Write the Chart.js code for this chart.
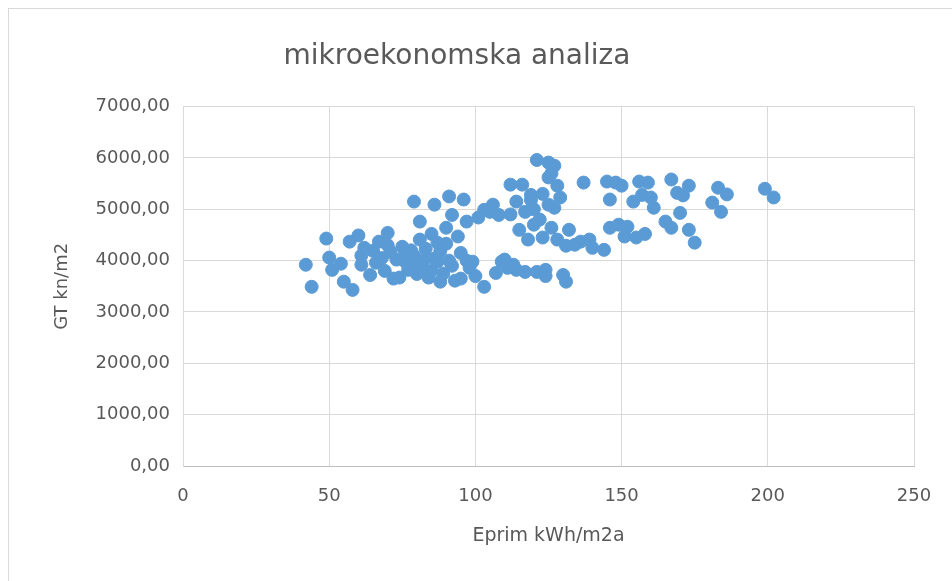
<!DOCTYPE html>
<html>
<head>
<meta charset="utf-8">
<script src="https://cdn.jsdelivr.net/npm/chart.js@4.4.1/dist/chart.umd.min.js"></script>
<style>
  html, body { margin: 0; padding: 0; background: #ffffff; }
  #wrap { position: relative; width: 952px; height: 581px; overflow: hidden; }
  #frame { position: absolute; left: 8px; top: 8px; width: 960px; height: 600px;
           border-left: 1px solid #d9d9d9; border-top: 1px solid #d9d9d9; }
  canvas { position: absolute; left: 0; top: 0; }
</style>
</head>
<body>
<div id="wrap">
  <div id="frame"></div>
  <canvas id="chart" width="952" height="581"></canvas>
</div>
<script>
// Eprim (kWh/m2a) per building
var eprim = [
  42, 44, 49, 50, 51, 54, 55, 57, 58, 60,
  61, 61, 62, 64, 65, 66, 67, 69, 70, 71,
  73, 74, 75, 76, 77, 79, 79, 81, 81, 82,
  83, 84, 85, 86, 87, 88, 88, 90, 90, 91,
  92, 92, 93, 94, 95, 96, 97, 98, 99, 100,
  103, 101, 103, 105, 106, 108, 109, 111, 112, 113,
  114, 115, 116, 117, 117, 118, 119, 120, 121, 122,
  123, 124, 121, 125, 125, 125, 126, 127, 128, 128,
  129, 130, 131, 131, 132, 134, 136, 137, 139, 140,
  144, 145, 146, 146, 148, 149, 150, 151, 154, 155,
  156, 157, 158, 159, 160, 161, 165, 167, 167, 169,
  170, 171, 173, 173, 175, 181, 183, 184, 186, 199,
  202, 86, 80, 72, 107, 119, 127, 110, 124, 152,
  78, 80, 83, 85, 89, 91, 87, 76, 70, 68,
  95, 97, 112, 114, 120, 123, 126
];
// GT (kn/m2) per building
var gt = [
  3920, 3490, 4430, 4060, 3820, 3940, 3590, 4370, 3430, 4490,
  4100, 3920, 4250, 3720, 4190, 3960, 4370, 3800, 4540, 4170,
  4020, 3670, 4270, 3980, 3820, 4100, 5150, 4760, 4410, 3880,
  4230, 3670, 4520, 5090, 3980, 3590, 4190, 4640, 4330, 5250,
  3900, 4890, 3610, 4470, 4150, 5190, 4760, 3860, 3980, 3700,
  3490, 4840, 4990, 4950, 5090, 4890, 3980, 3860, 5480, 3920,
  3820, 4600, 5480, 3780, 4950, 4410, 5280, 4700, 3780, 4800,
  4450, 3820, 5960, 5910, 5620, 5090, 4640, 5850, 5460, 4410,
  5230, 3720, 4290, 3590, 4600, 4310, 4370, 5520, 4410, 4250,
  4210, 5540, 5190, 4640, 5520, 4700, 5460, 4470, 5150, 4450,
  5540, 5280, 4520, 5520, 5230, 5030, 4760, 4640, 5580, 5320,
  4930, 5270, 5460, 4600, 4350, 5130, 5420, 4950, 5290, 5400,
  5230, 4040, 3740, 3650, 3760, 5180, 5030, 4020, 3700, 4660,
  4200, 3950, 4050, 3800, 3750, 4000, 4350, 4150, 4300, 4050,
  3650, 4000, 4900, 5150, 5000, 5300, 5700
];

var xTicksMax = 250;
var yTicksMax = 7000;

var points = eprim.map(function(x, i) {
  return { x: x, y: gt[i] };
});

var textColor = '#595959';
var gridColor = '#d9d9d9';
var fontFamily = '"DejaVu Sans", sans-serif';

var ctx = document.getElementById('chart').getContext('2d');
var chart = new Chart(ctx, {
  type: 'scatter',
  data: {
    datasets: [{
      label: 'GT kn/m2',
      data: points,
      backgroundColor: '#5b9bd5',
      borderColor: '#5b9bd5',
      borderWidth: 1,
      pointRadius: 6.5,
      pointHoverRadius: 6.5
    }]
  },
  options: {
    responsive: false,
    animation: false,
    layout: {
      padding: { left: 0, top: 0, right: 38, bottom: 0 }
    },
    plugins: {
      legend: { display: false },
      tooltip: { enabled: false },
      title: {
        display: true,
        text: 'mikroekonomska analiza',
        color: textColor,
        font: { family: fontFamily, size: 28, weight: 'normal' },
        padding: { top: 40, bottom: 33 }
      }
    },
    scales: {
      x: {
        type: 'linear',
        min: 0,
        max: xTicksMax,
        afterFit: function(scale) { scale.height = 115; },
        ticks: {
          stepSize: 50,
          color: textColor,
          padding: 20,
          font: { family: fontFamily, size: 18 }
        },
        grid: { color: gridColor, drawTicks: false },
        border: { color: '#bfbfbf' },
        title: {
          display: true,
          text: 'Eprim kWh/m2a',
          color: textColor,
          font: { family: fontFamily, size: 19 },
          padding: { top: 0, bottom: 34 }
        }
      },
      y: {
        type: 'linear',
        min: 0,
        max: yTicksMax,
        afterFit: function(scale) { scale.width = 183; },
        ticks: {
          stepSize: 1000,
          color: textColor,
          padding: 13,
          font: { family: fontFamily, size: 18 },
          callback: function(v) { return v.toFixed(2).replace('.', ','); }
        },
        grid: { color: gridColor, drawTicks: false },
        border: { color: gridColor },
        title: {
          display: true,
          text: 'GT kn/m2',
          color: textColor,
          font: { family: fontFamily, size: 18 },
          padding: { top: 52, bottom: 0 }
        }
      }
    }
  }
});
</script>
</body>
</html>
